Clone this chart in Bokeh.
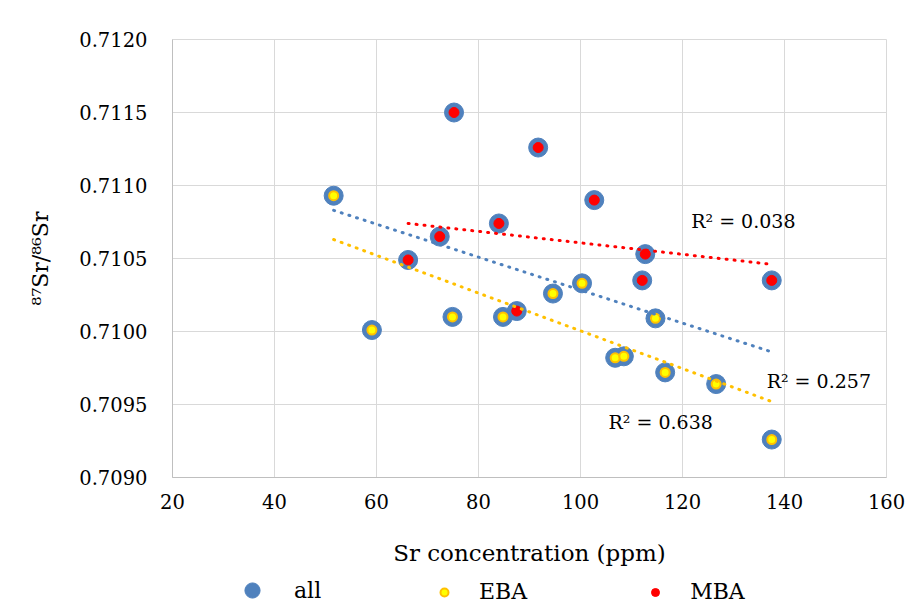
from bokeh.plotting import figure
from bokeh.layouts import column
from bokeh.models import Legend, LegendItem, NumeralTickFormatter, SingleIntervalTicker, Range1d, ColumnDataSource
from bokeh.embed import file_html
from bokeh.resources import INLINE
from bokeh.core.properties import value

# ---- data ----
eba_x = [51.6, 59.1, 74.9, 84.8, 94.6, 100.3, 106.8, 108.5, 114.7, 116.6, 126.6, 137.5]
eba_y = [0.71093, 0.71001, 0.71010, 0.71010, 0.71026, 0.71033, 0.70982, 0.70983, 0.71009, 0.70972, 0.70964, 0.70926]
mba_x = [66.2, 72.4, 75.2, 84.0, 87.5, 91.7, 102.7, 112.1, 112.7, 137.5]
mba_y = [0.71049, 0.71065, 0.71150, 0.71074, 0.71014, 0.71126, 0.71090, 0.71035, 0.71053, 0.71035]
all_x = eba_x + mba_x
all_y = eba_y + mba_y

# linear trend lines (start / end values)
trend_all_x = [51.6, 137.5]
trend_all_y = [0.71083, 0.70986]
trend_eba_x = [51.6, 137.5]
trend_eba_y = [0.71063, 0.70952]
trend_mba_x = [66.2, 137.5]
trend_mba_y = [0.71074, 0.71046]

r2_text = ["R² = 0.257", "R² = 0.638", "R² = 0.038"]
r2_x = [136.5, 105.5, 121.7]
r2_y = [0.70966, 0.70938, 0.71076]

series_names = ["all", "EBA", "MBA"]
series_data = {"all": (all_x, all_y), "EBA": (eba_x, eba_y), "MBA": (mba_x, mba_y)}

FONT = "DejaVu Serif"
BLUE = "#4F81BD"
STYLES = {
    "all": dict(size=19, fill_color=BLUE, line_color=BLUE),
    "EBA": dict(size=9, fill_color="#FFFF00", line_color="#FFC000", line_width=2),
    "MBA": dict(size=10, fill_color="#FF0000", line_color="#FF0000"),
}

p = figure(frame_width=714, frame_height=438, output_backend="svg", toolbar_location=None,
           x_range=Range1d(20, 160), y_range=Range1d(0.7090, 0.7120),
           min_border_left=172, min_border_right=23, min_border_top=39, min_border_bottom=95)

p.outline_line_color = "#D9D9D9"
p.xaxis.ticker = SingleIntervalTicker(interval=20)
p.yaxis.ticker = SingleIntervalTicker(interval=0.0005)
p.yaxis.formatter = NumeralTickFormatter(format="0.0000")
for ax in (p.xaxis[0], p.yaxis[0]):
    ax.axis_line_color = "#BFBFBF"
    ax.major_tick_line_color = None
    ax.minor_tick_line_color = None
    ax.major_tick_out = 0
    ax.major_tick_in = 0
    ax.major_label_text_font = FONT
    ax.major_label_text_font_size = "19.5px"
    ax.major_label_text_color = "#000000"
    ax.axis_label_text_font = FONT
    ax.axis_label_text_font_size = "22px"
    ax.axis_label_text_font_style = "normal"
    ax.axis_label_text_color = "#000000"
p.xaxis.axis_label_text_font_size = "23px"
p.xaxis.axis_label = "Sr concentration (ppm)"
p.yaxis.axis_label = "⁸⁷Sr/⁸⁶Sr"
p.xaxis.major_label_standoff = 12
p.xaxis.axis_label_standoff = 28
p.yaxis.major_label_standoff = 21
p.yaxis.axis_label_standoff = 23

p.xgrid.grid_line_color = "#D9D9D9"
p.ygrid.grid_line_color = "#D9D9D9"

for name in series_names:
    sx, sy = series_data[name]
    p.scatter(sx, sy, **STYLES[name])

for tx, ty, col in ((trend_all_x, trend_all_y, BLUE),
                    (trend_eba_x, trend_eba_y, "#FFC000"),
                    (trend_mba_x, trend_mba_y, "#FF0000")):
    p.line(tx, ty, line_color=col, line_width=3, line_dash="1 7", line_cap="round")

src = ColumnDataSource(dict(x=r2_x, y=r2_y, t=r2_text))
p.text(x="x", y="y", text="t", source=src, text_font=value(FONT), text_font_size="19px",
       text_baseline="middle", text_align="left", text_color="#000000")

# ---- legend strip below the chart (its series lie outside this strip's ranges) ----
p2 = figure(width=909, height=34, output_backend="svg", toolbar_location=None,
            x_range=Range1d(0, 1), y_range=Range1d(0, 1),
            min_border=0)
p2.axis.visible = False
p2.grid.visible = False
p2.outline_line_color = None
leg_renderers = {}
for name in series_names:
    sx, sy = series_data[name]
    leg_renderers[name] = p2.scatter(sx, sy, **STYLES[name])

common = dict(orientation="horizontal", label_text_font=FONT, label_text_font_size="22px",
              label_text_color="#000000", border_line_color=None, background_fill_alpha=0,
              margin=0, padding=0)
legend_all = Legend(items=[LegendItem(label="all", renderers=[leg_renderers["all"]])],
                    location=(61, -3), glyph_width=38, glyph_height=38, label_standoff=23, **common)
legend_groups = Legend(items=[LegendItem(label=n, renderers=[leg_renderers[n]]) for n in ("EBA", "MBA")],
                       location=(262, 2), glyph_width=20, glyph_height=20, label_standoff=25,
                       spacing=118, **common)
p2.add_layout(legend_all)
p2.add_layout(legend_groups)

open("out.html", "w").write(file_html(column(p, p2, spacing=0), INLINE))
